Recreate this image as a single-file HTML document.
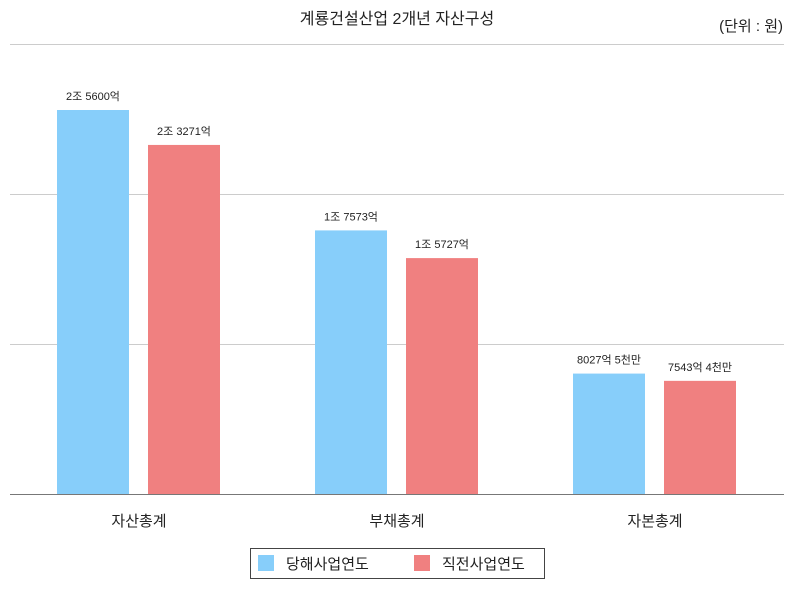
<!DOCTYPE html>
<html><head><meta charset="utf-8">
<style>
body{margin:0;background:#fff;font-family:"Liberation Sans","Noto Sans CJK KR",sans-serif;}
#wrap{position:relative;width:794px;height:588px;}
svg text{font-family:"Liberation Sans","Noto Sans CJK KR",sans-serif;}
</style></head>
<body>
<div id="wrap">
<svg id="c" width="794" height="588">
<text x="397" y="24" text-anchor="middle" font-size="16" fill="#222">계룡건설산업 2개년 자산구성</text>
<text x="783" y="31" text-anchor="end" font-size="15" fill="#222">(단위 : 원)</text>
<g id="grid"></g><g id="bars"></g>
<g>
<rect x="250.5" y="548.5" width="294" height="30" fill="#fff" stroke="#444"/>
<rect x="258" y="555" width="16" height="16" fill="#87cefa"/>
<text x="286" y="569" font-size="15" fill="#222">당해사업연도</text>
<rect x="414" y="555" width="16" height="16" fill="#f08080"/>
<text x="442" y="569" font-size="15" fill="#222">직전사업연도</text>
</g>
</svg></div>
<script>
const categories=["자산총계","부채총계","자본총계"];
const currentValues=[25600,17573,8027.5];
const previousValues=[23271,15727,7543.4];
const currentLabels=["2조 5600억","1조 7573억","8027억 5천만"];
const previousLabels=["2조 3271억","1조 5727억","7543억 4천만"];
const yTicks=[0,10000,20000,30000];
const NS="http://www.w3.org/2000/svg";
const plotLeft=10,plotRight=784,plotTop=44,plotBase=494,yMax=30000;
const yScale=v=>plotBase-v/yMax*(plotBase-plotTop);
const gw=(plotRight-plotLeft)/categories.length;
function mk(t,a,p){const e=document.createElementNS(NS,t);for(const k in a)e.setAttribute(k,a[k]);p.appendChild(e);return e;}
const grid=document.getElementById('grid'),bars=document.getElementById('bars');
yTicks.forEach((t,i)=>{const yy=Math.round(yScale(t))+0.5;
const l=mk('line',{x1:plotLeft,x2:plotRight,y1:yy,y2:yy,stroke:t===0?'#777':'#ccc'},grid);

});
categories.forEach((c,i)=>{
 const cx=plotLeft+gw*(i+0.5);
 [[currentValues,currentLabels,'#87cefa',cx-82,'current'],[previousValues,previousLabels,'#f08080',cx+9,'previous']].forEach(([vals,labs,col,x,nm])=>{
  const r=mk('rect',{x:x,y:yScale(vals[i]),width:72,height:plotBase-yScale(vals[i]),fill:col},bars);
  
  
  const t=mk('text',{x:x+36,y:yScale(vals[i])-10,'text-anchor':'middle','font-size':11,fill:'#222'},bars);
  t.textContent=labs[i];
  
  
 });
 const t=mk('text',{x:cx,y:526,'text-anchor':'middle','font-size':15,fill:'#222'},bars);
 t.textContent=c;
 
 
});
</script>
</body></html>
